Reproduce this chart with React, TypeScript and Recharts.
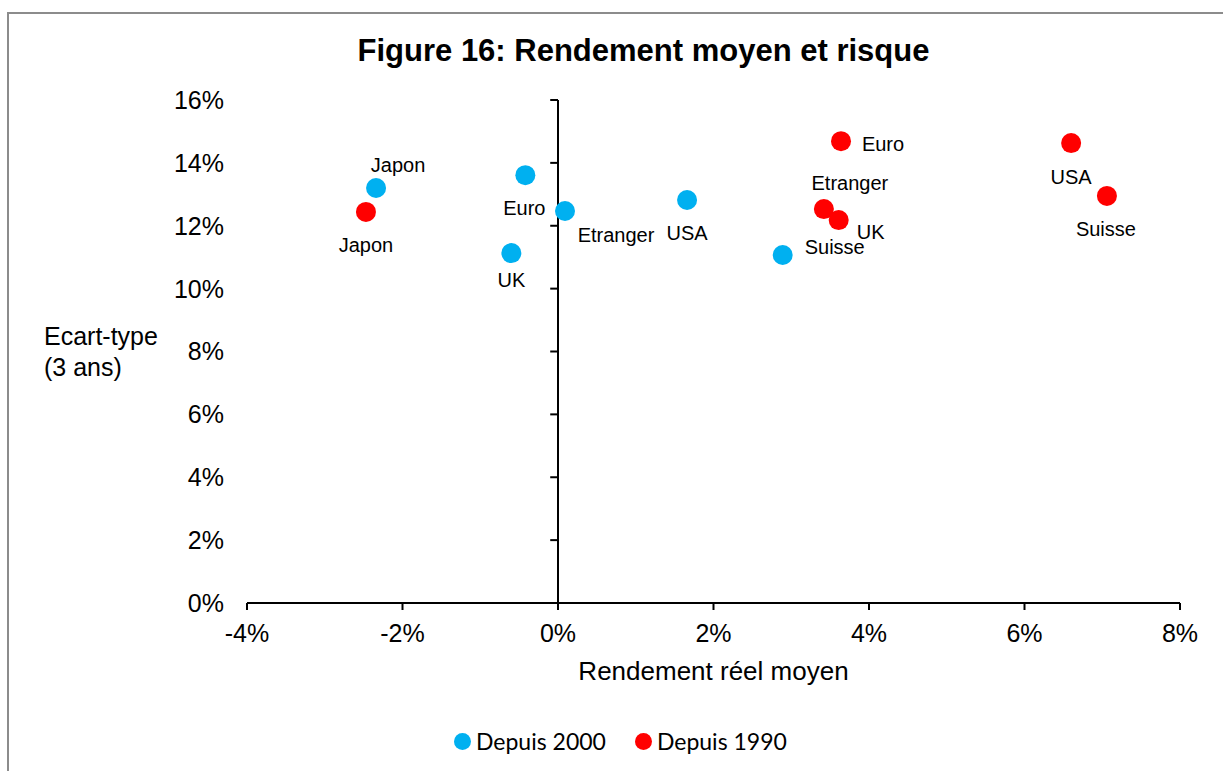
import {
  Legend,
  ReferenceLine,
  Scatter,
  ScatterChart,
  XAxis,
  YAxis,
} from 'recharts'

const countries = ['Japon', 'Euro', 'Etranger', 'UK', 'USA', 'Suisse']
// rendement réel moyen (%) / écart-type 3 ans (%)
const since2000Return = [-2.34, -0.42, 0.09, -0.6, 1.66, 2.89]
const since2000Risk = [13.2, 13.61, 12.47, 11.13, 12.82, 11.07]
const since1990Return = [-2.47, 3.64, 3.42, 3.61, 6.6, 7.06]
const since1990Risk = [12.44, 14.69, 12.53, 12.18, 14.63, 12.95]

const seriesNames = ['Depuis 2000', 'Depuis 1990']
const xTicks = [-4, -2, 0, 2, 4, 6, 8]
const yTicks = [0, 2, 4, 6, 8, 10, 12, 14, 16]

const BLUE = '#00B0F0'
const RED = '#FF0000'
const FONT = '"Liberation Sans", Arial, sans-serif'

// where each point label sits relative to its marker (dx, dy in px)
const labelOffsets2000: Record<string, [number, number]> = {
  Japon: [22, -23],
  Euro: [-1, 33],
  Etranger: [51, 24],
  UK: [0, 27],
  USA: [0, 33],
  Suisse: [52, -8],
}
const labelOffsets1990: Record<string, [number, number]> = {
  Japon: [0, 33],
  Euro: [42, 3],
  Etranger: [26, -26],
  UK: [32, 12],
  USA: [0, 34],
  Suisse: [-1, 33],
}

const since2000 = countries.map((name, i) => ({
  name,
  x: since2000Return[i],
  y: since2000Risk[i],
}))
const since1990 = countries.map((name, i) => ({
  name,
  x: since1990Return[i],
  y: since1990Risk[i],
}))

const pct = (v: number) => `${v}%`

function pointShape(color: string, offsets: Record<string, [number, number]>) {
  return (props: any) => {
    const { cx, cy, payload } = props
    const [dx, dy] = offsets[payload.name] ?? [0, 30]
    return (
      <g>
        <circle cx={cx} cy={cy} r={10} fill={color} />
        <text
          x={cx + dx}
          y={cy + dy + 7}
          textAnchor="middle"
          style={{ fontFamily: FONT, fontSize: 20, fill: '#000' }}
        >
          {payload.name}
        </text>
      </g>
    )
  }
}

function LegendContent({ payload }: any) {
  const items = [...(payload ?? [])].sort(
    (a: any, b: any) => seriesNames.indexOf(a.value) - seriesNames.indexOf(b.value)
  )
  return (
    <div
      style={{
        display: 'flex',
        alignItems: 'center',
        fontFamily: 'Lato, "Open Sans", sans-serif',
        fontSize: 23,
        color: '#000',
      }}
    >
      {items.map((item: any) => (
        <div
          key={item.value}
          style={{ display: 'flex', alignItems: 'center', marginRight: 29 }}
        >
          <span
            style={{
              width: 17,
              height: 17,
              borderRadius: '50%',
              background: item.color,
              marginRight: 5,
              display: 'inline-block',
            }}
          />
          <span>{item.value}</span>
        </div>
      ))}
    </div>
  )
}

export default function App() {
  const tickStyle = { fontFamily: FONT, fontSize: 25, fill: '#000' }
  return (
    <div
      style={{
        position: 'absolute',
        left: 0,
        top: 0,
        width: 1223,
        height: 771,
        background: '#fff',
        overflow: 'hidden',
      }}
    >
      <div
        style={{
          position: 'absolute',
          left: 7,
          top: 12,
          width: 1216,
          height: 759,
          borderTop: '2px solid #8c8c8c',
          borderLeft: '2px solid #8c8c8c',
          boxSizing: 'border-box',
        }}
      />
      <div
        style={{
          position: 'absolute',
          left: 643.5,
          top: 35,
          transform: 'translateX(-50%)',
          whiteSpace: 'nowrap',
          fontFamily: FONT,
          fontWeight: 'bold',
          fontSize: 31,
          lineHeight: '31px',
          color: '#000',
        }}
      >
        Figure 16: Rendement moyen et risque
      </div>
      <div style={{ position: 'absolute', left: 0, top: 0 }}>
        <ScatterChart
          width={1223}
          height={771}
          margin={{ top: 100, right: 43, bottom: 0, left: 0 }}
        >
          <XAxis
            type="number"
            dataKey="x"
            domain={[-4, 8]}
            ticks={xTicks}
            tickFormatter={pct}
            height={168}
            axisLine={{ stroke: '#000', strokeWidth: 2 }}
            tickLine={{ stroke: '#000', strokeWidth: 2 }}
            tickSize={7}
            tickMargin={14}
            tick={tickStyle}
            label={{
              content: () => (
                <text
                  x={713.5}
                  y={680}
                  textAnchor="middle"
                  style={{ fontFamily: FONT, fontSize: 26, fill: '#000' }}
                >
                  Rendement réel moyen
                </text>
              ),
            }}
          />
          <YAxis
            type="number"
            dataKey="y"
            domain={[0, 16]}
            ticks={yTicks}
            tickFormatter={pct}
            width={247}
            axisLine={false}
            tickLine={false}
            tickSize={0}
            tickMargin={23}
            tick={tickStyle}
            label={{
              content: () => (
                <text style={{ fontFamily: FONT, fontSize: 25, fill: '#000' }}>
                  <tspan x={44} y={345}>
                    Ecart-type
                  </tspan>
                  <tspan x={44} y={376}>
                    (3 ans)
                  </tspan>
                </text>
              ),
            }}
          />
          <ReferenceLine x={0} stroke="#000" strokeWidth={2} />
          {yTicks.map((t) => (
            <ReferenceLine
              key={t}
              segment={[
                { x: -0.1, y: t },
                { x: 0, y: t },
              ]}
              stroke="#000"
              strokeWidth={2}
            />
          ))}
          <Scatter
            name={seriesNames[0]}
            data={since2000}
            fill={BLUE}
            shape={pointShape(BLUE, labelOffsets2000)}
            isAnimationActive={false}
          />
          <Scatter
            name={seriesNames[1]}
            data={since1990}
            fill={RED}
            shape={pointShape(RED, labelOffsets1990)}
            isAnimationActive={false}
          />
          <Legend
            layout="horizontal"
            verticalAlign="middle"
            align="center"
            wrapperStyle={{ top: 727, left: 454, width: 420 }}
            content={<LegendContent />}
          />
        </ScatterChart>
      </div>
    </div>
  )
}
